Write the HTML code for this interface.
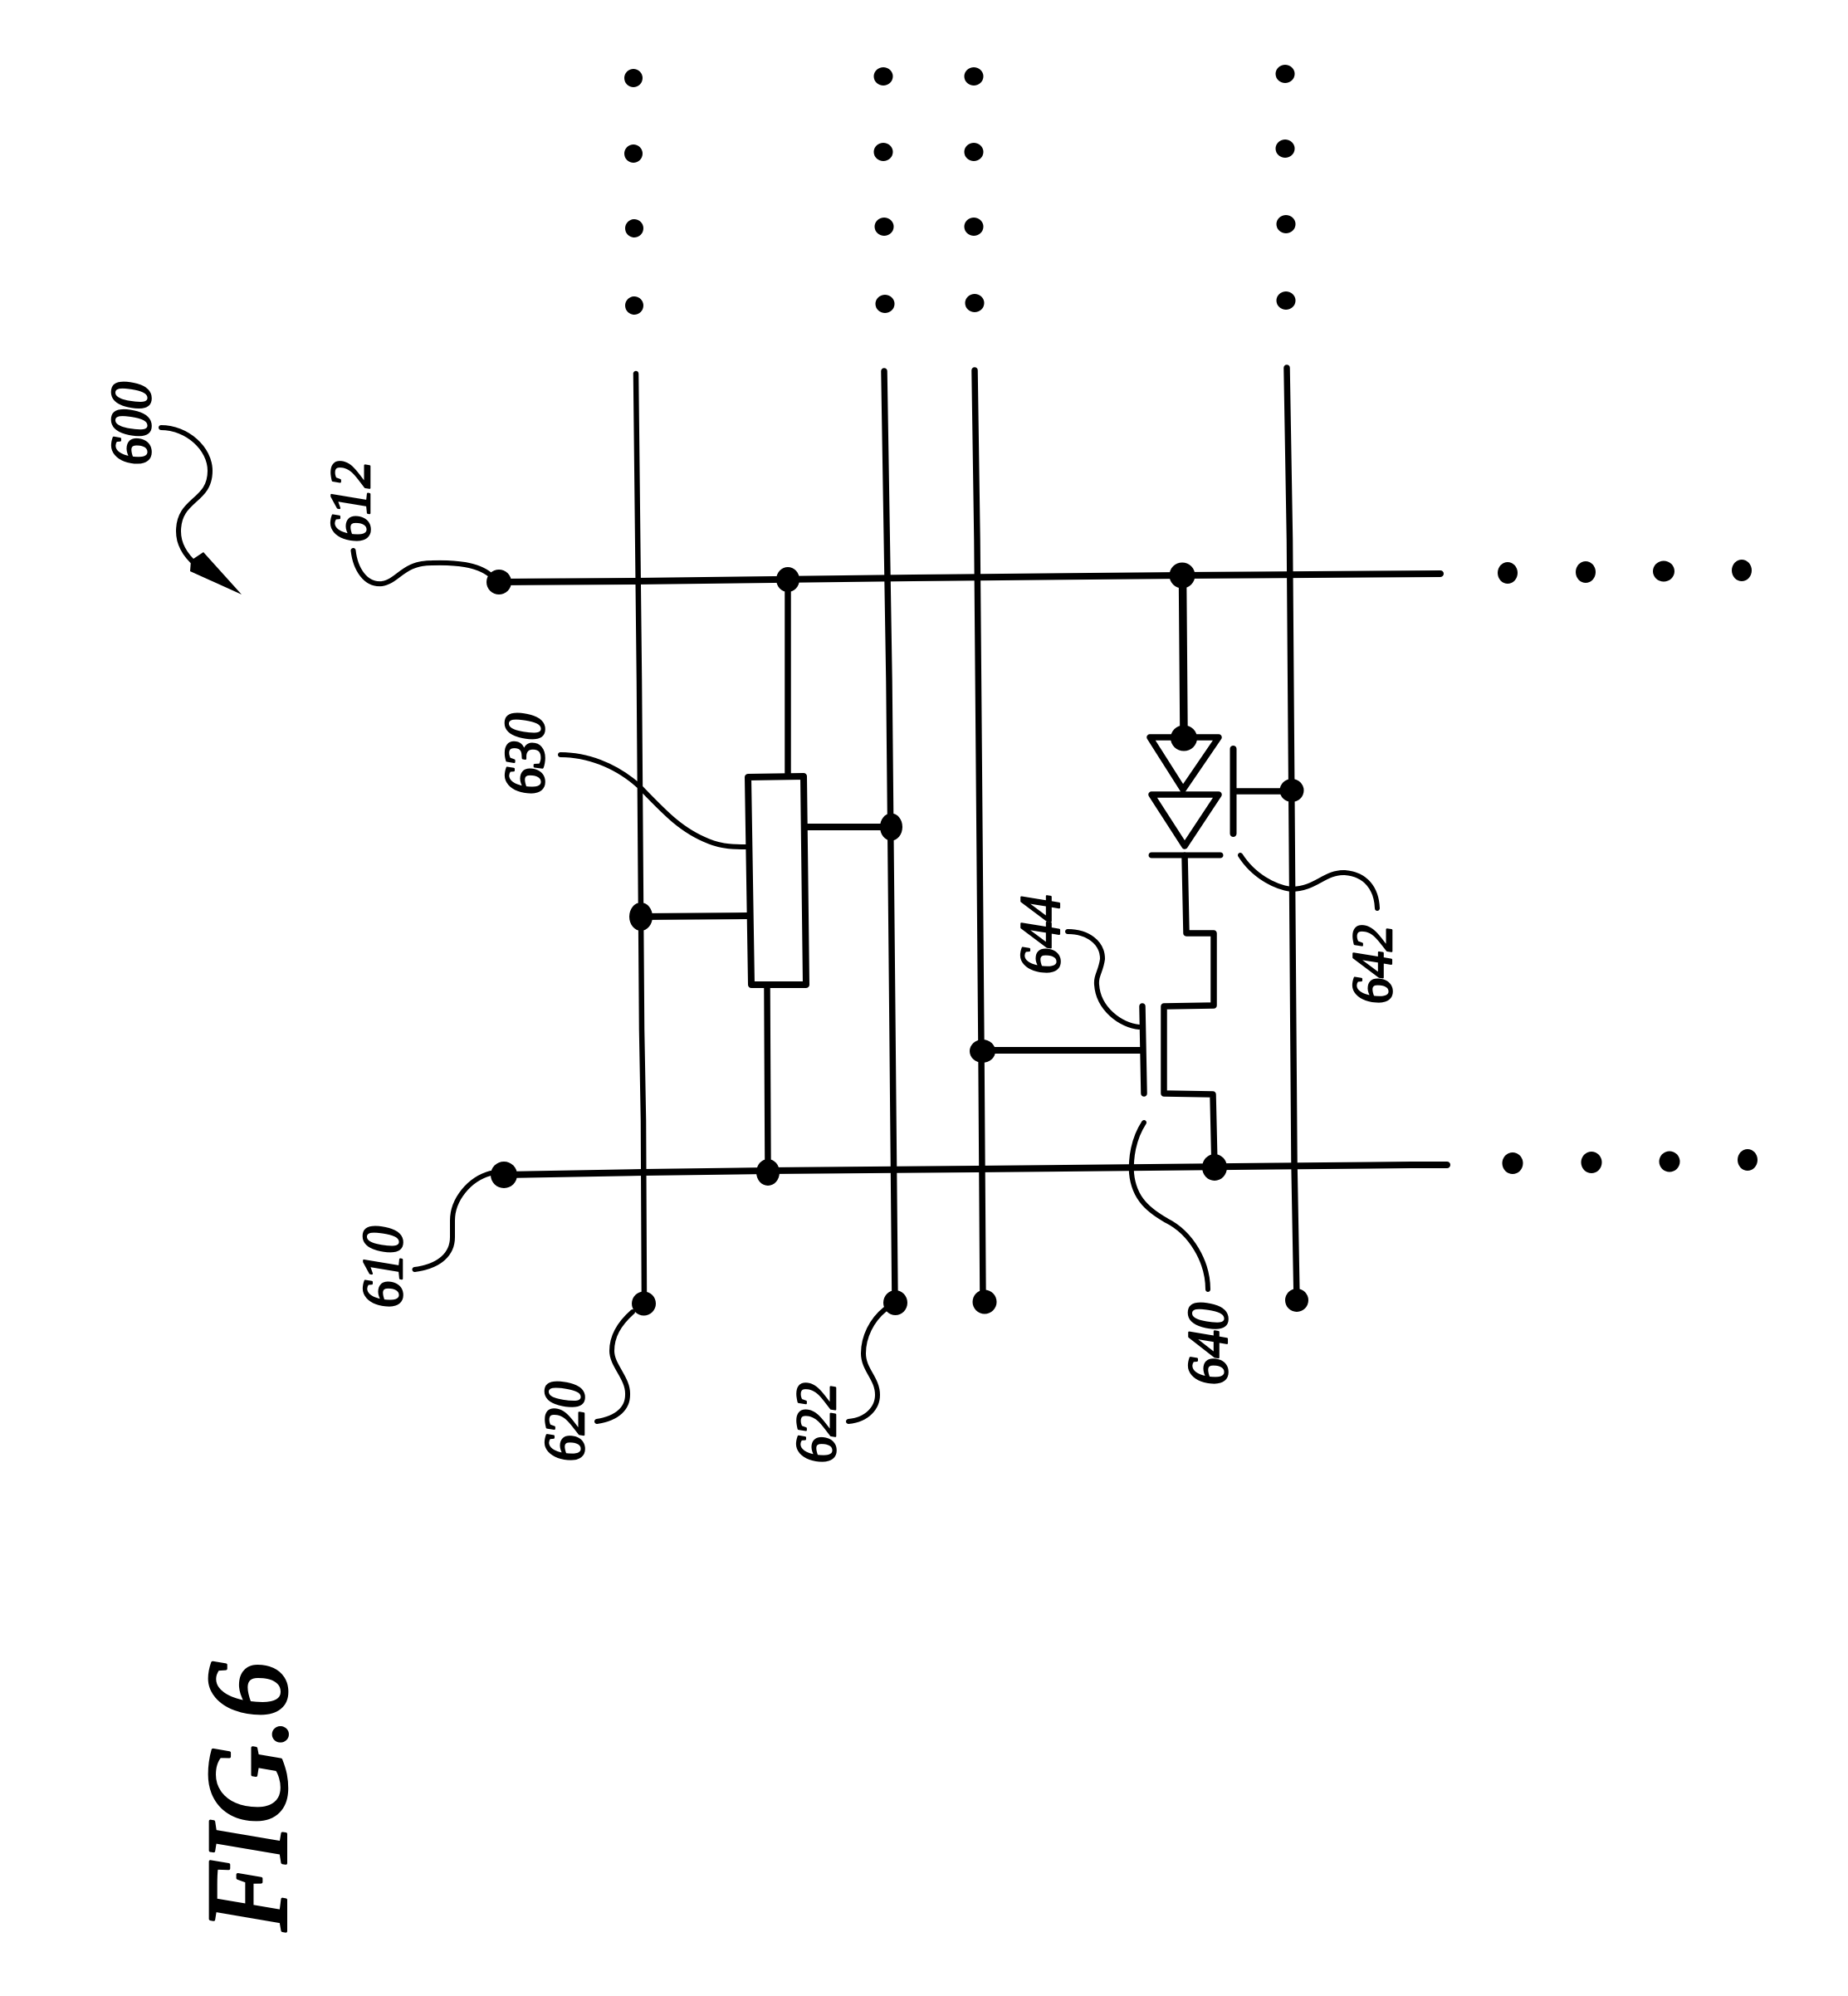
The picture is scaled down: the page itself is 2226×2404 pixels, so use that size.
<!DOCTYPE html>
<html><head><meta charset="utf-8"><style>
html,body{margin:0;padding:0;background:#fff}
svg{display:block}
text{font-family:"Liberation Serif",serif;font-style:italic;fill:#000;stroke:#000;stroke-width:2.6;stroke-linejoin:round}
</style></head><body>
<svg width="2226" height="2404" viewBox="0 0 2226 2404" xmlns="http://www.w3.org/2000/svg">
<rect width="2226" height="2404" fill="#fff"/>
<g fill="#000">
<ellipse cx="763" cy="94" rx="11" ry="11"/><ellipse cx="763" cy="185" rx="11" ry="11"/><ellipse cx="764" cy="275" rx="11" ry="11"/><ellipse cx="764" cy="368" rx="11" ry="11"/>
<ellipse cx="1064" cy="92" rx="11.5" ry="11"/><ellipse cx="1064" cy="183" rx="11.5" ry="11"/><ellipse cx="1065" cy="273" rx="11.5" ry="11"/><ellipse cx="1066" cy="366" rx="11.5" ry="11"/>
<ellipse cx="1173" cy="92" rx="11.5" ry="11"/><ellipse cx="1173" cy="183" rx="11.5" ry="11"/><ellipse cx="1173" cy="273" rx="11.5" ry="11"/><ellipse cx="1174" cy="365" rx="11.5" ry="11"/>
<ellipse cx="1548" cy="89" rx="11.5" ry="11"/><ellipse cx="1548" cy="179" rx="11.5" ry="11"/><ellipse cx="1549" cy="270" rx="11.5" ry="11"/><ellipse cx="1549" cy="362" rx="11.5" ry="11"/>
<ellipse cx="1816" cy="690" rx="12" ry="13"/><ellipse cx="1910" cy="689" rx="12" ry="13"/><ellipse cx="2004" cy="688" rx="13" ry="12.5"/><ellipse cx="2098" cy="687" rx="12" ry="13"/>
<ellipse cx="1822" cy="1401" rx="12.5" ry="13"/><ellipse cx="1917" cy="1400" rx="12.5" ry="13"/><ellipse cx="2011" cy="1399" rx="12.5" ry="12.5"/><ellipse cx="2105" cy="1397" rx="12" ry="13"/>
<!-- junctions -->
<ellipse cx="601" cy="701" rx="15" ry="15"/><ellipse cx="607" cy="1415" rx="16" ry="16"/>
<ellipse cx="775.5" cy="1570" rx="14.5" ry="14.5"/><ellipse cx="1078.5" cy="1569" rx="14.5" ry="15"/><ellipse cx="1186" cy="1568" rx="14.5" ry="14.5"/><ellipse cx="1562" cy="1566" rx="14" ry="14"/>
<ellipse cx="949" cy="698" rx="14" ry="15"/><ellipse cx="1424" cy="693" rx="15.5" ry="15.5"/>
<ellipse cx="772" cy="1104" rx="14" ry="17"/><ellipse cx="1073.5" cy="996" rx="13.5" ry="16.5"/>
<ellipse cx="925" cy="1412" rx="14" ry="16"/><ellipse cx="1463" cy="1406" rx="15" ry="16"/>
<ellipse cx="1183.5" cy="1266" rx="15.5" ry="14"/><ellipse cx="1556" cy="952" rx="14.5" ry="14"/>
<ellipse cx="1426" cy="889" rx="16" ry="15.5"/>
<polygon points="245,665 230,675 229,688 291,716"/>
</g>
<g fill="none" stroke="#000" stroke-linecap="round" stroke-linejoin="round">
<!-- vertical lines -->
<polyline stroke-width="6.5" points="766,450 770,820 773,1240 775,1350 776,1570"/>
<polyline stroke-width="7.5" points="1065,447 1071,820 1075,1240 1076,1350 1078,1568"/>
<polyline stroke-width="7.5" points="1174,446 1177,650 1182,1265 1184,1568"/>
<polyline stroke-width="7.5" points="1550,443 1553.5,650 1559,1400 1562,1566"/>
<!-- horizontal lines -->
<polyline stroke-width="8" points="601,701 766,700 1100,696 1424,693 1735,691"/>
<polyline stroke-width="8" points="607,1415 775,1412 925,1410 1176,1408 1700,1403 1743,1403"/>
<!-- box 630 -->
<polygon stroke-width="8" points="901,936 968,935 971,1186 905,1186"/>
<line stroke-width="7.5" x1="949" y1="700" x2="949" y2="932"/>
<line stroke-width="7.5" x1="924" y1="1190" x2="925" y2="1410"/>
<line stroke-width="8" x1="972" y1="996" x2="1073" y2="996"/>
<line stroke-width="8" x1="772" y1="1104" x2="900" y2="1103"/>
<!-- diodes -->
<line stroke-width="9.5" x1="1424.5" y1="693" x2="1426" y2="885"/>
<polygon stroke-width="7.5" points="1385,888 1468,888 1425,951"/>
<polygon stroke-width="7.5" points="1387,957 1468,957 1427,1019"/>
<line stroke-width="7" x1="1387" y1="1030" x2="1470" y2="1030"/>
<line stroke-width="8" x1="1485.5" y1="902" x2="1485.5" y2="1004"/>
<line stroke-width="7.5" x1="1487" y1="953" x2="1555" y2="953"/>
<!-- transistor -->
<polyline stroke-width="7.5" points="1427,1030 1429,1124 1462,1124 1462,1211 1402,1212 1402,1317 1461,1318 1463,1406"/>
<line stroke-width="7.5" x1="1376" y1="1212" x2="1378" y2="1317"/>
<line stroke-width="8" x1="1183" y1="1265" x2="1375" y2="1265"/>
<!-- leaders -->
<g stroke-width="6">
<path d="M194 515C225 515 253 540 253 567C253 605 215 600 215 640C215 652 220 666 236 680"/>
<path d="M425.5 663C428 685 440 705 460 703C480 700 485 678 520 678C550 677 575 680 590 692"/>
<path d="M591 1413C565 1420 545 1445 545 1470L545 1490C545 1510 530 1525 499.5 1529"/>
<path d="M762 1580C745 1595 737 1610 737 1627C737 1645 757 1660 756 1680C756 1695 745 1708 719 1712"/>
<path d="M1066 1577C1050 1590 1040 1610 1040 1630C1040 1650 1057 1660 1057 1680C1057 1695 1045 1710 1022 1712"/>
<path d="M675 909C705 909 740 920 770 947C800 978 820 1000 853 1013C870 1020 885 1020 898 1020"/>
<path d="M1286 1122C1310 1122 1328 1135 1328 1155C1326 1170 1320 1175 1321 1186C1323 1215 1350 1235 1372 1237"/>
<path d="M1494 1030C1510 1055 1535 1068 1555 1071C1585 1071 1595 1050 1620 1051C1645 1053 1658 1070 1659 1094"/>
<path d="M1378 1352C1365 1372 1362 1395 1363 1413C1366 1445 1385 1458 1405 1470C1435 1485 1455 1520 1455 1553"/>
</g>
</g>
<!-- labels -->
<g font-size="69">
<text transform="translate(181,560) rotate(-90)" textLength="100" lengthAdjust="spacingAndGlyphs">600</text>
<text transform="translate(445,653) rotate(-90)" textLength="98" lengthAdjust="spacingAndGlyphs">612</text>
<text transform="translate(655,957) rotate(-90)" textLength="98" lengthAdjust="spacingAndGlyphs">630</text>
<text transform="translate(484,1575) rotate(-90)" textLength="98" lengthAdjust="spacingAndGlyphs">610</text>
<text transform="translate(703,1760) rotate(-90)" textLength="96" lengthAdjust="spacingAndGlyphs">620</text>
<text transform="translate(1006,1762) rotate(-90)" textLength="97" lengthAdjust="spacingAndGlyphs">622</text>
<text transform="translate(1276,1173) rotate(-90)" textLength="95" lengthAdjust="spacingAndGlyphs">644</text>
<text transform="translate(1676,1209) rotate(-90)" textLength="95" lengthAdjust="spacingAndGlyphs">642</text>
<text transform="translate(1478,1668) rotate(-90)" textLength="99" lengthAdjust="spacingAndGlyphs">640</text>
</g>
<text transform="translate(344,2325) rotate(-90)" font-size="138" style="stroke-width:4" textLength="323" lengthAdjust="spacingAndGlyphs">FIG.6</text>
</svg>
</body></html>
